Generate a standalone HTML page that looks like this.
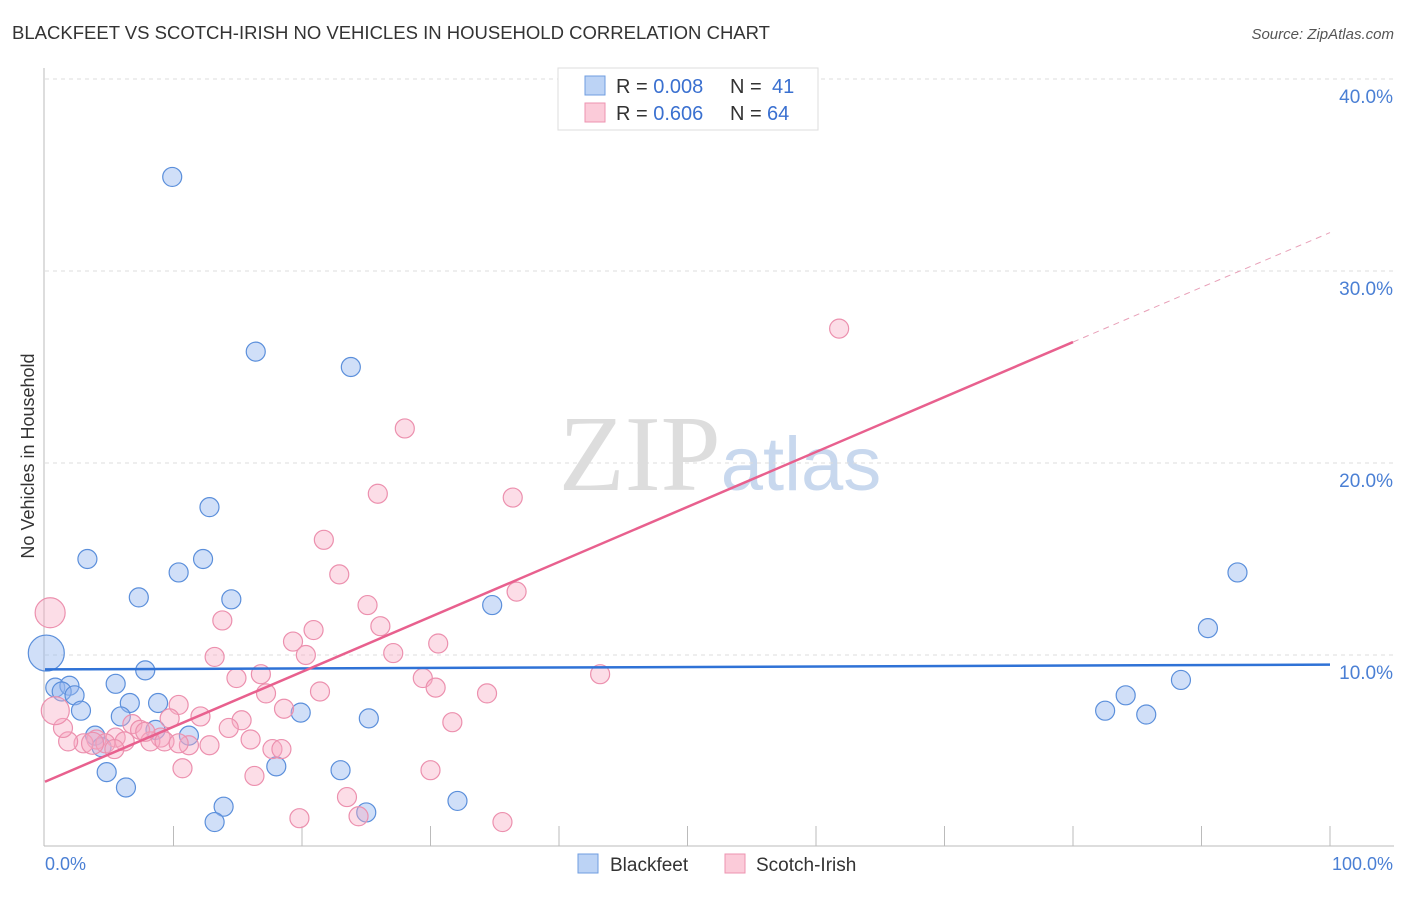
<!DOCTYPE html>
<html><head><meta charset="utf-8"><style>
body{margin:0;background:#fff;font-family:"Liberation Sans",sans-serif}
</style></head><body>
<svg id="c" width="1406" height="892" xmlns="http://www.w3.org/2000/svg" font-family="Liberation Sans, sans-serif">
<text x="12" y="39" font-size="18" fill="#333" textLength="758" lengthAdjust="spacingAndGlyphs">BLACKFEET VS SCOTCH-IRISH NO VEHICLES IN HOUSEHOLD CORRELATION CHART</text>
<text x="1394" y="39" font-size="15" fill="#555" text-anchor="end" font-style="italic">Source: ZipAtlas.com</text>
<text x="720" y="490" font-size="108" text-anchor="middle" font-family="Liberation Serif, serif"><tspan fill="#ddd">ZIP</tspan><tspan fill="#c8d8ee" font-family="Liberation Sans, sans-serif" font-size="76">atlas</tspan></text>
<g id="grid"></g>
<line x1="44" y1="68" x2="44" y2="846" stroke="#bbb"/>
<line x1="44" y1="846" x2="1394" y2="846" stroke="#bbb"/>
<text transform="translate(34,456) rotate(-90)" font-size="18" fill="#333" text-anchor="middle">No Vehicles in Household</text>
<text x="45" y="870" font-size="18" fill="#4a7fd4">0.0%</text>
<text x="1393" y="870" font-size="18" fill="#4a7fd4" text-anchor="end">100.0%</text>
<g id="pts"></g>
<g id="trend"></g>
<g>
<rect x="558" y="68" width="260" height="62" fill="#fff" stroke="#ddd"/>
<rect x="585" y="76" width="20" height="19" fill="#bcd3f5" stroke="#6f9ee0"/>
<rect x="585" y="103" width="20" height="19" fill="#fbcbd9" stroke="#ee93b0"/>
<text x="616" y="93" font-size="20" fill="#333">R = <tspan fill="#3a70d0">0.008</tspan><tspan x="730">N =</tspan><tspan x="772" fill="#3a70d0">41</tspan></text>
<text x="616" y="120" font-size="20" fill="#333">R = <tspan fill="#3a70d0">0.606</tspan><tspan x="730">N =</tspan><tspan x="767" fill="#3a70d0">64</tspan></text>
</g>
<g>
<rect x="578" y="854" width="20" height="19" fill="#bcd3f5" stroke="#6f9ee0"/>
<text x="610" y="871" font-size="19" fill="#333">Blackfeet</text>
<rect x="725" y="854" width="20" height="19" fill="#fbcbd9" stroke="#ee93b0"/>
<text x="756" y="871" font-size="19" fill="#333">Scotch-Irish</text>
</g>
</svg>
<script>
const yTicks=[10,20,30,40];
const xTicks=[0,10,20,30,40,50,60,70,80,90,100];
const bfX=[9.9,16.4,23.8,12.8,3.3,10.4,12.3,7.3,14.5,34.8,92.8,90.5,7.8,0.8,1.9,1.3,2.3,2.8,5.5,6.6,8.8,5.9,3.9,4.4,11.2,8.6,19.9,25.2,4.8,6.3,18.0,23.0,13.9,13.2,25.0,32.1,82.5,84.1,85.7,88.4,0.1];
const bfY=[34.9,25.8,25.0,17.7,15.0,14.3,15.0,13.0,12.9,12.6,14.3,11.4,9.2,8.3,8.4,8.1,7.9,7.1,8.5,7.5,7.5,6.8,5.8,5.2,5.8,6.1,7.0,6.7,3.9,3.1,4.2,4.0,2.1,1.3,1.8,2.4,7.1,7.9,6.9,8.7,10.1];
const siX=[52.6,61.8,28.0,25.9,36.4,21.7,22.9,36.7,25.1,13.8,26.1,20.9,19.3,30.6,13.2,20.3,27.1,16.8,14.9,43.2,29.4,30.4,17.2,21.4,34.4,10.4,18.6,12.1,9.7,15.3,31.7,14.3,6.8,7.4,9.0,4.0,5.5,6.2,4.7,3.0,1.8,1.4,8.2,9.3,11.2,12.8,16.0,17.7,18.4,5.4,10.7,16.3,30.0,23.5,19.8,24.4,35.6,0.4,0.8,3.7,10.4,7.8];
const siY=[38.4,27.0,21.8,18.4,18.2,16.0,14.2,13.3,12.6,11.8,11.5,11.3,10.7,10.6,9.9,10.0,10.1,9.0,8.8,9.0,8.8,8.3,8.0,8.1,8.0,7.4,7.2,6.8,6.7,6.6,6.5,6.2,6.4,6.1,5.7,5.6,5.7,5.5,5.4,5.4,5.5,6.2,5.5,5.5,5.3,5.3,5.6,5.1,5.1,5.1,4.1,3.7,4.0,2.6,1.5,1.6,1.3,12.2,7.1,5.4,5.4,6.0];
const bfTrend=[9.25,9.5], siTrend=[3.4,26.3,32.0];
const X=v=>45+v*12.85, Y=v=>847-v*19.2;
const ns="http://www.w3.org/2000/svg";
function mk(p,t,a){const e=document.createElementNS(ns,t);for(const k in a)e.setAttribute(k,a[k]);p.appendChild(e);return e;}
const g=document.getElementById('grid');
yTicks.forEach(t=>{
const l=mk(g,'line',{x1:45,x2:1394,y1:Y(t),y2:Y(t),stroke:'#ddd','stroke-dasharray':'4,4'});


const tx=mk(g,'text',{x:1393,y:Y(t)+24,'font-size':19,fill:'#4a7fd4','text-anchor':'end'});tx.textContent=t.toFixed(1)+'%';


});
xTicks.slice(1).forEach(t=>{
const l=mk(g,'line',{x1:X(t),x2:X(t),y1:826,y2:846,stroke:'#bbb'});


});
const P=document.getElementById('pts');
bfX.forEach((x,i)=>{const r=i==bfX.length-1?18:9.5;
const c=mk(P,'circle',{cx:X(x),cy:Y(bfY[i]),r:r,fill:'rgba(150,185,240,0.45)',stroke:'#5b8fdb','stroke-width':1.2});

});
siX.forEach((x,i)=>{const r=i==57?15:(i==58?14:(i==59?11:9.5));
const c=mk(P,'circle',{cx:X(x),cy:Y(siY[i]),r:r,fill:'rgba(247,170,195,0.4)',stroke:'#ec90ae','stroke-width':1.2});

});
const T=document.getElementById('trend');
let l=mk(T,'line',{x1:X(0),x2:X(100),y1:Y(bfTrend[0]),y2:Y(bfTrend[1]),stroke:'#2f72d6','stroke-width':2.5});


l=mk(T,'line',{x1:X(0),x2:X(80),y1:Y(siTrend[0]),y2:Y(siTrend[1]),stroke:'#e8608e','stroke-width':2.5});


l=mk(T,'line',{x1:X(80),x2:X(100),y1:Y(siTrend[1]),y2:Y(siTrend[2]),stroke:'#e8a0b8','stroke-width':1,'stroke-dasharray':'6,5'});


</script>
</body></html>
